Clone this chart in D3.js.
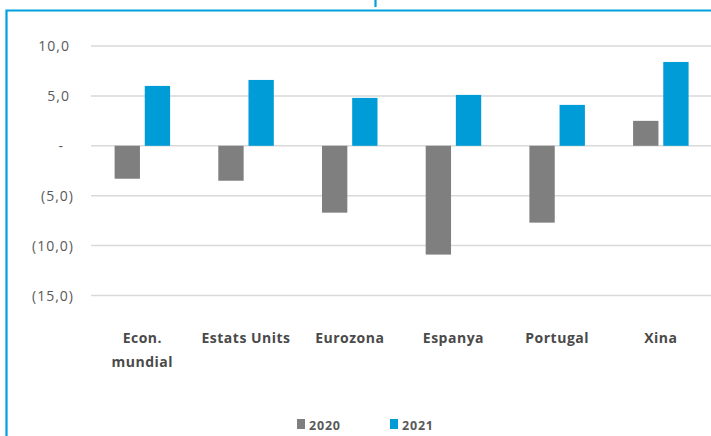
<!DOCTYPE html>
<html><head><meta charset="utf-8">
<script src="https://cdn.jsdelivr.net/npm/d3@7"></script>
<style>html,body{margin:0;padding:0;background:#fff;overflow:hidden}</style>
</head><body>
<svg id="c" width="711" height="436"></svg>
<script>
const categories = [["Econ.","mundial"],["Estats Units"],["Eurozona"],["Espanya"],["Portugal"],["Xina"]];
const seriesNames = ["2020","2021"];
const values2020 = [-3.3,-3.5,-6.7,-10.9,-7.7,2.5];
const values2021 = [6.0,6.6,4.8,5.1,4.1,8.4];
const yTicks = [10,5,0,-5,-10,-15];
const yTickLabels = ["10,0","5,0","-","(5,0)","(10,0)","(15,0)"];
const colors = ["#7f7f7f","#009cd8"];

const svg = d3.select("#c");
const font = "'Open Sans', sans-serif";

// frame
svg.append("path").attr("d","M6.5,436 V10.5 H711").attr("fill","none").attr("stroke","#00a0dd").attr("stroke-width",2.2);
svg.append("line").attr("x1",375.5).attr("x2",375.5).attr("y1",0).attr("y2",7).attr("stroke","#00a0dd").attr("stroke-width",2.2);

const y = d3.scaleLinear().domain([-15,10]).range([295.5,46]);
const ids = d3.range(categories.length);
const x = d3.scaleBand().domain(ids).range([90.5,712.7]).paddingInner(0).paddingOuter(0);
const xs = d3.scaleBand().domain(seriesNames).range([0,55.5]).paddingInner(0.16);
const cx = i => x(i) + x.bandwidth()/2 - 27.75;

// grid
svg.append("g").selectAll("line").data(yTicks).join("line")
  .attr("x1",91).attr("x2",711).attr("y1",d=>y(d)).attr("y2",d=>y(d))
  .attr("stroke","#d9d9d9").attr("stroke-width",1.5);
const yAxis = d3.axisLeft(y).tickValues(yTicks).tickSize(0).tickFormat((d,i)=>yTickLabels[i]);
const ga = svg.append("g").attr("transform","translate(70,0)").call(yAxis);
ga.select(".domain").remove();
ga.selectAll("text").attr("font-family",font).attr("font-size",14).attr("fill","#595959")
  .attr("letter-spacing",1).attr("dy","0.35em")
  .attr("x",(d,i)=>{const l=yTickLabels[i]; return l.endsWith(")")?4:(l==="-"?-6:0);});

// bars
const series = [values2020, values2021];
series.forEach((vals,si)=>{
  svg.append("g").selectAll("rect").data(vals).join("rect")
    .attr("x",(d,i)=>cx(i)+xs(seriesNames[si]))
    .attr("width",xs.bandwidth())
    .attr("y",d=>y(Math.max(0,d)))
    .attr("height",d=>Math.abs(y(d)-y(0)))
    .attr("fill",colors[si]);
});

// x labels
const xl = svg.append("g");
categories.forEach((lines,i)=>{
  const t = xl.append("text").attr("text-anchor","middle").attr("font-family",font)
    .attr("font-weight","bold").attr("font-size",14).attr("letter-spacing",0.5).attr("fill","#4a4a4a");
  lines.forEach((l,j)=>t.append("tspan").attr("x",x(i)+x.bandwidth()/2).attr("y",343+j*24).text(l));
});

// legend
const legX = [297,390];
seriesNames.forEach((s,i)=>{
  svg.append("rect").attr("x",legX[i]).attr("y",419).attr("width",8).attr("height",10).attr("fill",colors[i]);
  svg.append("text").attr("x",legX[i]+12).attr("y",429.5).attr("font-family",font).attr("font-weight","bold")
    .attr("font-size",12.5).attr("letter-spacing",0.8).attr("fill","#595959").text(s);
});
</script>
</body></html>
